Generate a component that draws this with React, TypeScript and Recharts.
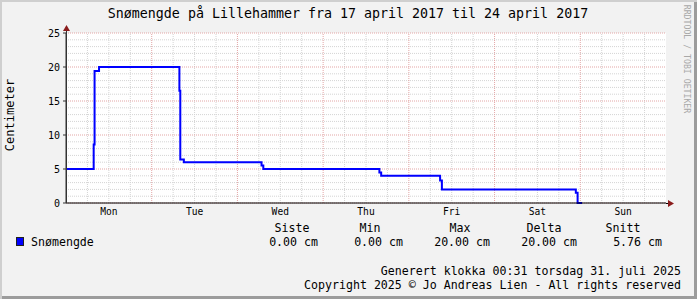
import { CartesianGrid, Line, LineChart, ReferenceLine, XAxis, YAxis } from "recharts";

// snow depth (cm) as steps, hour offset from Mon 17 april 2017 00:00
const hours = [0, 7.75, 8, 9.25, 31.75, 32, 33, 54.75, 55.25, 87.75, 88.25, 104.75, 105.25, 142.75, 143.25, 144.5];
const snow = [5, 8.6, 19.4, 20, 16.5, 6.4, 6, 5.5, 5, 4.5, 4, 3.3, 2, 1.5, 0, 0];

const dayLabels = ["Mon", "Tue", "Wed", "Thu", "Fri", "Sat", "Sun"];
const dayTicks = [12, 36, 60, 84, 108, 132, 156];
const yTicks = [0, 5, 10, 15, 20, 25];

const statNames = ["Siste", "Min", "Max", "Delta", "Snitt"];
const statValues = ["0.00 cm", "0.00 cm", "20.00 cm", "20.00 cm", "5.76 cm"];
const statNameX = [292, 370, 460, 544, 623];
const statValueX = [318, 403, 490, 577, 662];

const data = hours.map((h, i) => ({ h, cm: snow[i] }));

const minorX: number[] = [];
const majorX: number[] = [];
for (let h = 6; h < 168; h += 6) (h % 24 === 0 ? majorX : minorX).push(h);
const minorY: number[] = [];
for (let v = 1; v <= 25; v++) if (v % 5 !== 0) minorY.push(v);

const FONT = "DejaVu Sans Mono";
const MINOR = "#d4d4d4";
const MAJOR = "#e3a6a6";
const ARROW = "#8a1c1c";

export default function App() {
  return (
    <div
      style={{
        position: "absolute",
        left: 0,
        top: 0,
        width: 697,
        height: 299,
        background: "#f2f2f2",
        boxShadow: "inset 2px 2px 0 #cfcfcf, inset -3px -3px 0 #9c9c9c",
        fontFamily: FONT,
      }}
    >
      <LineChart
        width={697}
        height={299}
        data={data}
        margin={{ top: 33, right: 31, bottom: 76, left: 26 }}
      >
        <CartesianGrid fill="#ffffff" horizontal={false} vertical={false} />
        {minorX.map((h) => (
          <ReferenceLine key={"mx" + h} x={h} stroke={MINOR} strokeDasharray="1 1" />
        ))}
        {minorY.map((v) => (
          <ReferenceLine key={"my" + v} y={v} stroke={MINOR} strokeDasharray="1 1" />
        ))}
        {majorX.map((h) => (
          <ReferenceLine key={"Mx" + h} x={h} stroke={MAJOR} strokeDasharray="1 1" />
        ))}
        {yTicks.map((v) => (
          <ReferenceLine key={"My" + v} y={v} stroke={MAJOR} strokeDasharray="1 1" />
        ))}
        <XAxis
          dataKey="h"
          type="number"
          domain={[0, 168]}
          ticks={dayTicks}
          tickFormatter={(v) => dayLabels[dayTicks.indexOf(v)] ?? ""}
          height={20}
          tickLine={false}
          tickSize={4}
          tickMargin={1}
          axisLine={{ stroke: "#000000", strokeWidth: 1 }}
          tick={{ fill: "#000000", fontSize: 9.6, fontFamily: FONT }}
          allowDataOverflow
        />
        <YAxis
          type="number"
          domain={[0, 25]}
          ticks={yTicks}
          width={40}
          tickSize={3}
          tickMargin={3}
          tickLine={{ stroke: "#333333" }}
          axisLine={{ stroke: "#333333" }}
          tick={{ fill: "#000000", fontSize: 10, fontFamily: FONT }}
        />
        <Line
          dataKey="cm"
          type="stepAfter"
          stroke="#0000ff"
          strokeWidth={2}
          dot={false}
          isAnimationActive={false}
        />
      </LineChart>
      <svg
        width={697}
        height={299}
        style={{ position: "absolute", left: 0, top: 0, pointerEvents: "none" }}
        fontFamily={FONT}
      >
        <line x1={66.5} y1={203} x2={66.5} y2={29} stroke="#333333" />
        <line x1={666} y1={203.5} x2={670} y2={203.5} stroke="#000000" />
        <polygon points="63,31 70,31 66.5,25" fill={ARROW} />
        <polygon points="668,200 668,207 674,203.5" fill={ARROW} />
        <text x={348} y={13} textAnchor="middle" dominantBaseline="central" fontSize={13.3} fill="#000">
          Snømengde på Lillehammer fra 17 april 2017 til 24 april 2017
        </text>
        <text
          x={10}
          y={115}
          textAnchor="middle"
          dominantBaseline="central"
          fontSize={12}
          fill="#000"
          transform="rotate(-90 10 115)"
        >
          Centimeter
        </text>
        <text
          x={687}
          y={59}
          textAnchor="middle"
          dominantBaseline="central"
          fontSize={8.2}
          fill="#a8a8a8"
          transform="rotate(90 687 59)"
        >
          RRDTOOL / TOBI OETIKER
        </text>
        <rect x={16.5} y={237.5} width={7} height={8} fill="#0000ff" stroke="#202020" />
        <text x={31} y={242} dominantBaseline="central" fontSize={11.6} fill="#000">
          Snømengde
        </text>
        {statNames.map((s, i) => (
          <text key={s} x={statNameX[i]} y={228} textAnchor="middle" dominantBaseline="central" fontSize={11.6} fill="#000">
            {s}
          </text>
        ))}
        {statValues.map((s, i) => (
          <text key={i} x={statValueX[i]} y={242} textAnchor="end" dominantBaseline="central" fontSize={11.6} fill="#000" xmlSpace="preserve">
            {s}
          </text>
        ))}
        <text x={681} y={271} textAnchor="end" dominantBaseline="central" fontSize={11.6} fill="#000">
          Generert klokka 00:31 torsdag 31. juli 2025
        </text>
        <text x={681} y={285} textAnchor="end" dominantBaseline="central" fontSize={11.6} fill="#000">
          Copyright 2025 © Jo Andreas Lien - All rights reserved
        </text>
      </svg>
    </div>
  );
}
